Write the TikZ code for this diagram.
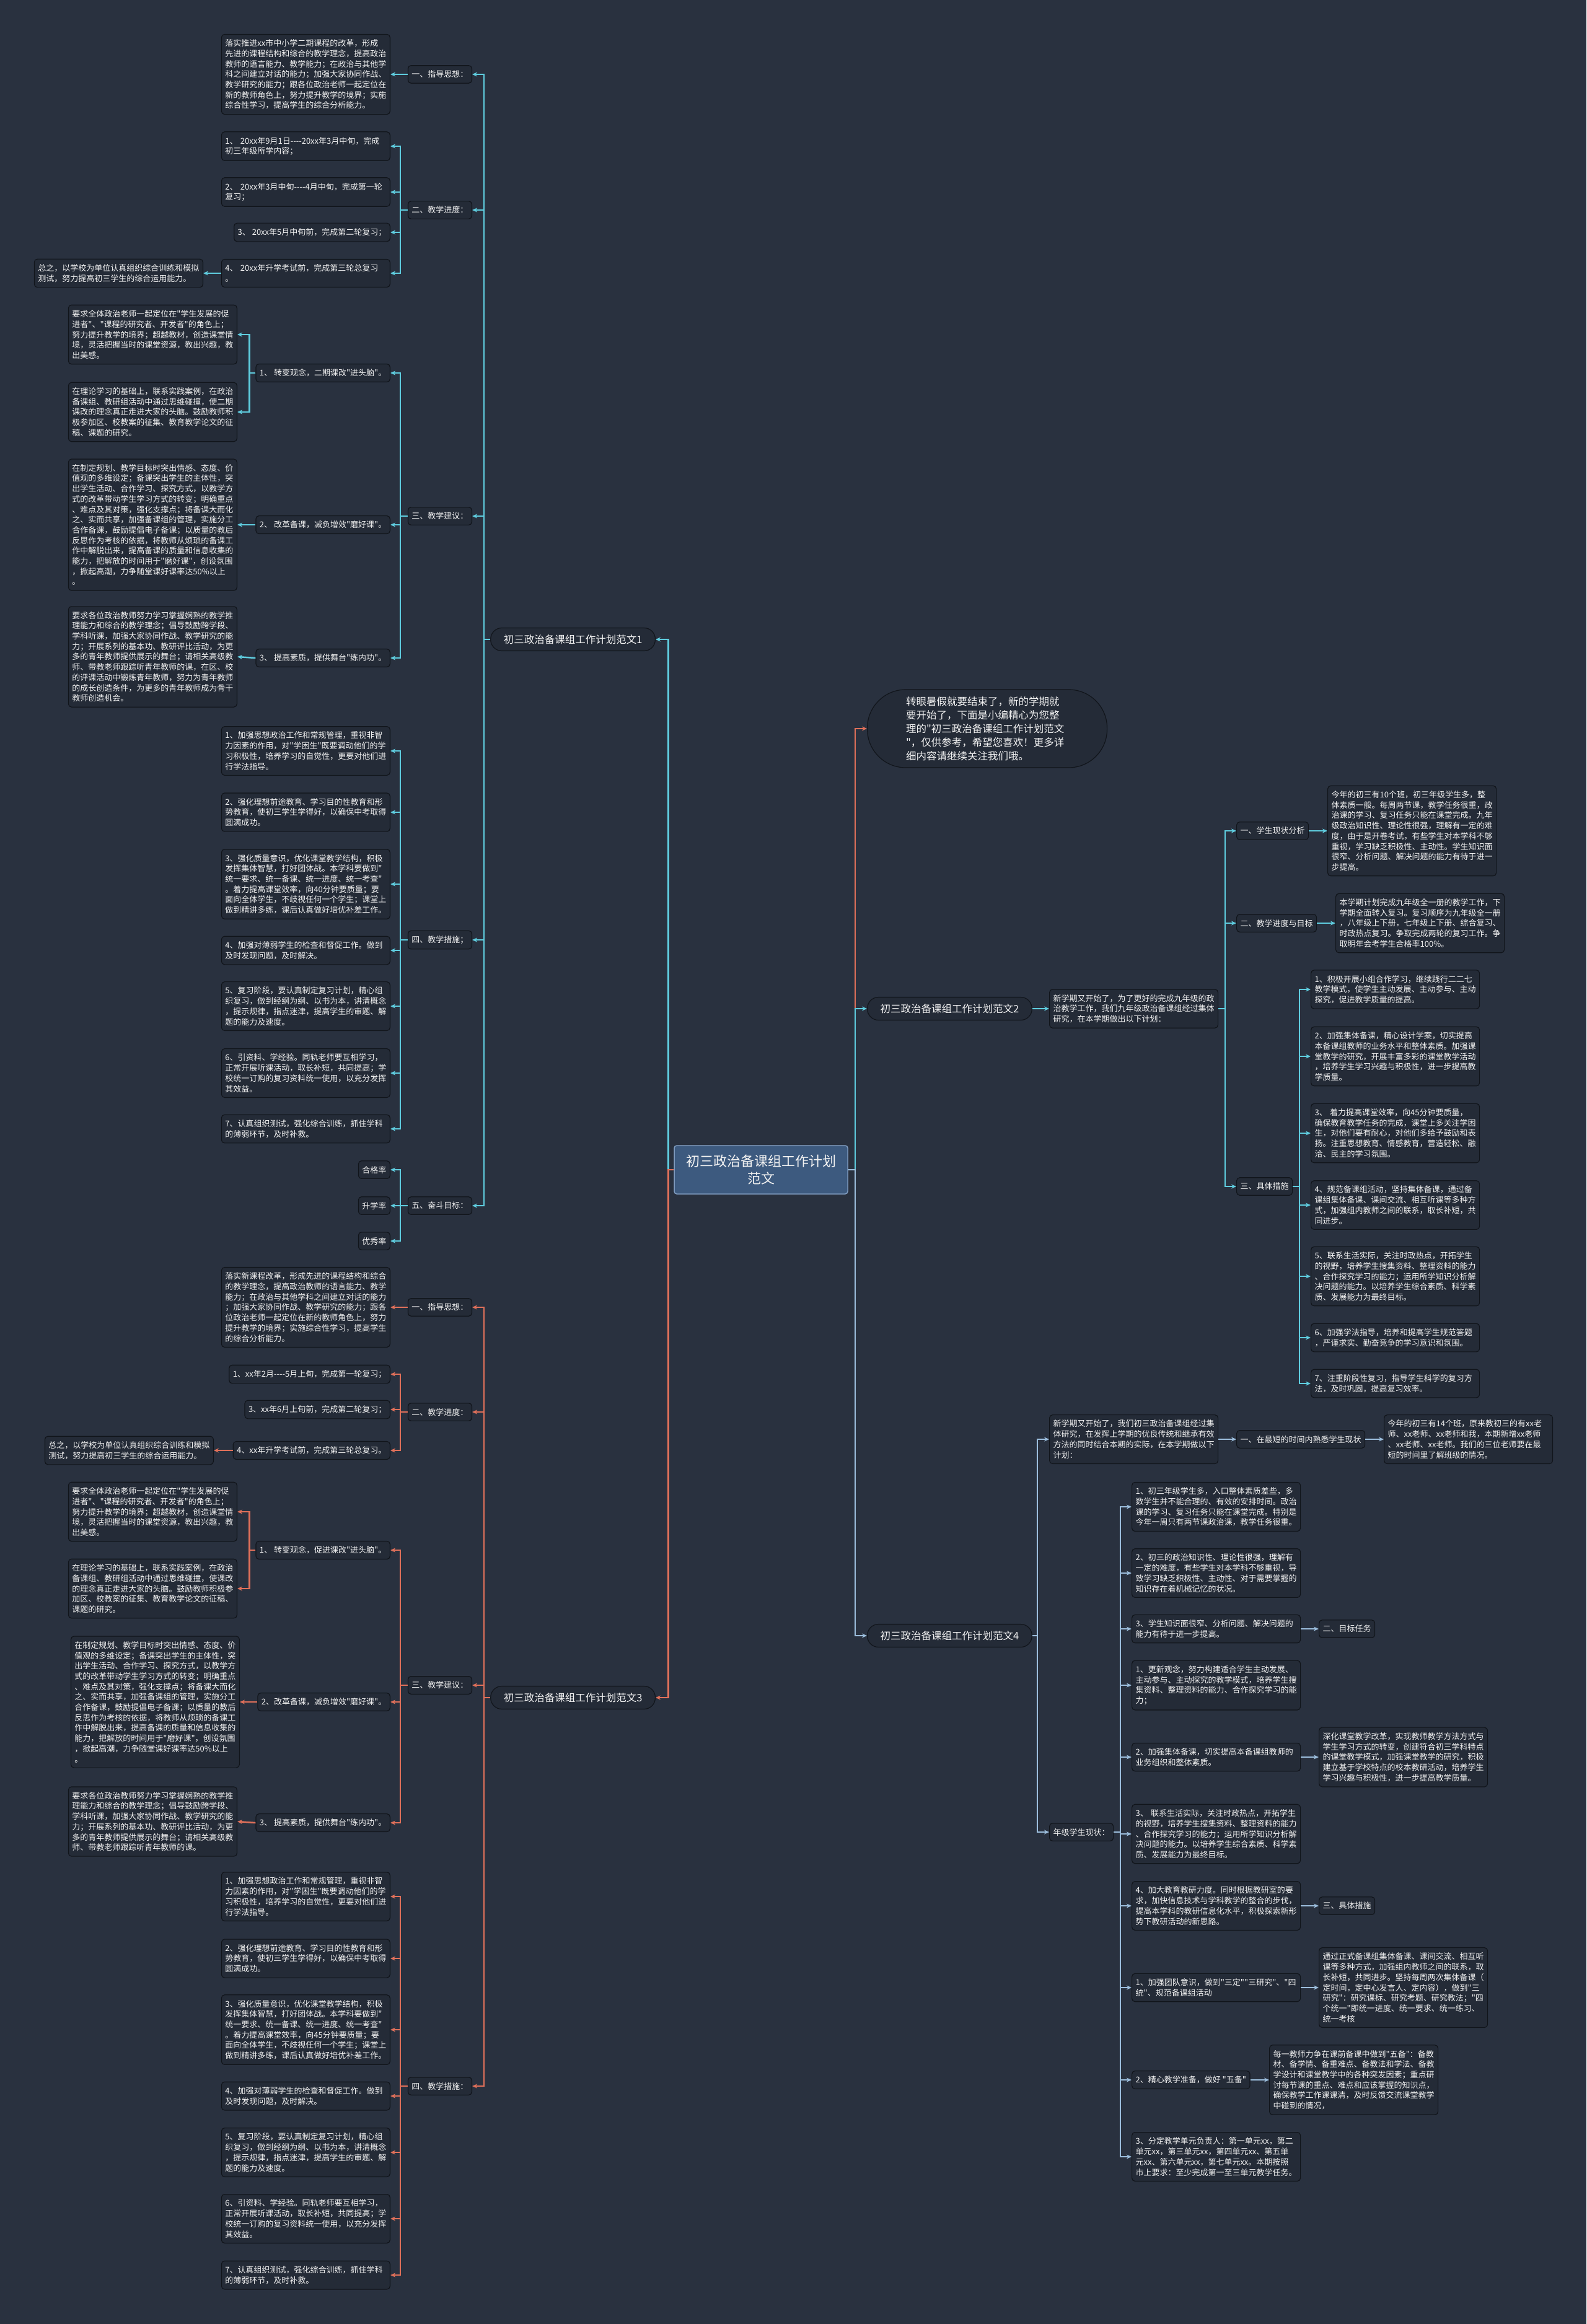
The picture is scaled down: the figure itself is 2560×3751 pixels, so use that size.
\documentclass[tikz,border=0pt]{standalone}
\usepackage{fontspec}
\newfontfamily\zh{Noto Sans CJK SC}
\usetikzlibrary{arrows.meta}
\definecolor{bgc}{HTML}{29313F}
\definecolor{nfill}{HTML}{242B37}
\definecolor{nline}{HTML}{11151B}
\definecolor{ccy}{HTML}{5FCDDF}
\definecolor{cor}{HTML}{E0705A}
\definecolor{cbl}{HTML}{9CBEDD}
\definecolor{rootfill}{HTML}{3D5A7F}
\definecolor{rootline}{HTML}{7E9BBF}
\definecolor{txt}{HTML}{F2F2F2}
\tikzset{
 bx/.style={draw=nline, fill=nfill, line width=1.2pt, rounded corners=5pt, inner xsep=6pt, inner ysep=8.3pt, text=txt, align=left, font=\zh\fontsize{13pt}{16.7pt}\selectfont},
 wb/.style={bx, text width=260pt},
 tp/.style={bx, font=\zh\fontsize{16.5pt}{22pt}\selectfont, rounded corners=18pt, inner xsep=21pt, minimum height=37pt, align=center},
 lc/.style={draw=ccy, line width=2.5pt, -{Stealth[length=8pt,width=7pt]}},
 lo/.style={lc, draw=cor},
 lb/.style={lc, draw=cbl},
}
\begin{document}
\begin{tikzpicture}[x=1pt,y=-1pt]
\useasboundingbox (0,0) rectangle (2560,3751);
\fill[bgc] (0,0) rectangle (2560,3751);

% ---------- root ----------
\node[draw=rootline, fill=rootfill, line width=1.5pt, rounded corners=4pt, text=txt, align=center, font=\zh\fontsize{22pt}{28pt}\selectfont, minimum width=280pt, minimum height=78pt, inner sep=0pt] (root) at (1228,1888) {初三政治备课组工作计划\\范文};

\node[tp, anchor=east] (T1) at (1058,1032) {初三政治备课组工作计划范文1};
\node[tp, anchor=east] (T3) at (1058,2740) {初三政治备课组工作计划范文3};
\node[tp, anchor=west, align=left, text width=262pt, inner xsep=62.5pt, minimum height=126pt, rounded corners=62pt] (intro) at (1399,1176) {转眼暑假就要结束了，新的学期就\\要开始了，下面是小编精心为您整\\理的"初三政治备课组工作计划范文\\"，仅供参考，希望您喜欢！更多详\\细内容请继续关注我们哦。};
\node[tp, anchor=west] (T2) at (1399,1628) {初三政治备课组工作计划范文2};
\node[tp, anchor=west] (T4) at (1399,2640) {初三政治备课组工作计划范文4};

\draw[lo] (root.east) -- ++(11,0) |- (intro.west);
\draw[lc] (root.east) -- ++(11,0) |- (T2.west);
\draw[lb] (root.east) -- ++(11,0) |- (T4.west);
\draw[lc] (root.west) -- ++(-9,0) |- (T1.east);
\draw[lo] (root.west) -- ++(-9,0) |- (T3.east);

% ---------- 范文1 ----------
\node[bx, anchor=east] (a1) at (762,120) {一、指导思想：};
\node[bx, anchor=east] (a2) at (762,339) {二、教学进度：};
\node[bx, anchor=east] (a3) at (762,833) {三、教学建议：};
\node[bx, anchor=east] (a4) at (762,1517) {四、教学措施；};
\node[bx, anchor=east] (a5) at (762,1946) {五、奋斗目标：};
\foreach \n in {a1,a2,a3,a4,a5} \draw[lc] (T1.west) -- ++(-10,0) |- (\n.east);

\node[wb, anchor=east] (a1c) at (630,120) {落实推进xx市中小学二期课程的改革，形成\\先进的课程结构和综合的教学理念，提高政治\\教师的语言能力、教学能力；在政治与其他学\\科之间建立对话的能力；加强大家协同作战、\\教学研究的能力；跟各位政治老师一起定位在\\新的教师角色上，努力提升教学的境界；实施\\综合性学习，提高学生的综合分析能力。};
\draw[lc] (a1.west) -- (a1c.east);

\node[wb, anchor=east] (b1) at (630,236) {1、 20xx年9月1日----20xx年3月中旬，完成\\初三年级所学内容；};
\node[wb, anchor=east] (b2) at (630,310) {2、 20xx年3月中旬----4月中旬，完成第一轮\\复习；};
\node[bx, anchor=east] (b3) at (630,375) {3、 20xx年5月中旬前，完成第二轮复习；};
\node[wb, anchor=east] (b4) at (630,441) {4、 20xx年升学考试前，完成第三轮总复习\\。};
\foreach \n in {b1,b2,b3,b4} \draw[lc] (a2.west) -- ++(-12,0) |- (\n.east);
\node[bx, anchor=east] (b4c) at (328,441) {总之，以学校为单位认真组织综合训练和模拟\\测试，努力提高初三学生的综合运用能力。};
\draw[lc] (b4.west) -- (b4c.east);

\node[bx, anchor=east] (d1) at (630,602) {1、 转变观念，二期课改"进头脑"。};
\node[bx, anchor=east] (d2) at (630,847) {2、 改革备课，减负增效"磨好课"。};
\node[bx, anchor=east] (d3) at (630,1062) {3、 提高素质，提供舞台"练内功"。};
\foreach \n in {d1,d2,d3} \draw[lc] (a3.west) -- ++(-12,0) |- (\n.east);
\node[wb, anchor=east] (e1) at (383,540) {要求全体政治老师一起定位在"学生发展的促\\进者"、"课程的研究者、开发者"的角色上；\\努力提升教学的境界；超越教材，创造课堂情\\境，灵活把握当时的课堂资源，教出兴趣，教\\出美感。};
\node[wb, anchor=east] (e2) at (383,665) {在理论学习的基础上，联系实践案例，在政治\\备课组、教研组活动中通过思维碰撞，使二期\\课改的理念真正走进大家的头脑。鼓励教师积\\极参加区、校教案的征集、教育教学论文的征\\稿、课题的研究。};
\foreach \n in {e1,e2} \draw[lc] (d1.west) -- ++(-10,0) |- (\n.east);
\node[wb, anchor=east] (e3) at (383,847) {在制定规划、教学目标时突出情感、态度、价\\值观的多维设定；备课突出学生的主体性，突\\出学生活动、合作学习、探究方式，以教学方\\式的改革带动学生学习方式的转变；明确重点\\、难点及其对策，强化支撑点；将备课大而化\\之、实而共享，加强备课组的管理，实施分工\\合作备课，鼓励提倡电子备课；以质量的教后\\反思作为考核的依据，将教师从烦琐的备课工\\作中解脱出来，提高备课的质量和信息收集的\\能力，把解放的时间用于"磨好课"，创设氛围\\，掀起高潮，力争随堂课好课率达50\%以上\\。};
\draw[lc] (d2.west) -- (e3.east);
\node[wb, anchor=east] (e4) at (383,1060) {要求各位政治教师努力学习掌握娴熟的教学推\\理能力和综合的教学理念；倡导鼓励跨学段、\\学科听课，加强大家协同作战、教学研究的能\\力；开展系列的基本功、教研评比活动，为更\\多的青年教师提供展示的舞台；请相关高级教\\师、带教老师跟踪听青年教师的课，在区、校\\的评课活动中锻炼青年教师，努力为青年教师\\的成长创造条件，为更多的青年教师成为骨干\\教师创造机会。};
\draw[lc] (d3.west) -- (e4.east);

\node[wb, anchor=east] (f1) at (630,1212) {1、加强思想政治工作和常规管理，重视非智\\力因素的作用，对"学困生"既要调动他们的学\\习积极性，培养学习的自觉性，更要对他们进\\行学法指导。};
\node[wb, anchor=east] (f2) at (630,1311) {2、强化理想前途教育、学习目的性教育和形\\势教育，使初三学生学得好，以确保中考取得\\圆满成功。};
\node[wb, anchor=east] (f3) at (630,1427) {3、强化质量意识，优化课堂教学结构，积极\\发挥集体智慧，打好团体战。本学科要做到"\\统一要求、统一备课、统一进度、统一考查"\\。着力提高课堂效率，向40分钟要质量；要\\面向全体学生，不歧视任何一个学生；课堂上\\做到精讲多练，课后认真做好培优补差工作。};
\node[wb, anchor=east] (f4) at (630,1534) {4、加强对薄弱学生的检查和督促工作。做到\\及时发现问题，及时解决。};
\node[wb, anchor=east] (f5) at (630,1624) {5、复习阶段，要认真制定复习计划，精心组\\织复习，做到经纲为纲、以书为本，讲清概念\\，提示规律，指点迷津，提高学生的审题、解\\题的能力及速度。};
\node[wb, anchor=east] (f6) at (630,1732) {6、引资料、学经验。同轨老师要互相学习，\\正常开展听课活动，取长补短，共同提高；学\\校统一订购的复习资料统一使用，以充分发挥\\其效益。};
\node[wb, anchor=east] (f7) at (630,1822) {7、认真组织测试，强化综合训练，抓住学科\\的薄弱环节，及时补救。};
\foreach \n in {f1,f2,f3,f4,f5,f6,f7} \draw[lc] (a4.west) -- ++(-12,0) |- (\n.east);

\node[bx, anchor=east] (g1) at (630,1888) {合格率};
\node[bx, anchor=east] (g2) at (630,1946) {升学率};
\node[bx, anchor=east] (g3) at (630,2003) {优秀率};
\foreach \n in {g1,g2,g3} \draw[lc] (a5.west) -- ++(-12,0) |- (\n.east);

% ---------- 范文3 ----------
\node[bx, anchor=east] (h1) at (762,2110) {一、指导思想：};
\node[bx, anchor=east] (h2) at (762,2279) {二、教学进度：};
\node[bx, anchor=east] (h3) at (762,2720) {三、教学建议：};
\node[bx, anchor=east] (h4) at (762,3367) {四、教学措施：};
\foreach \n in {h1,h2,h3,h4} \draw[lo] (T3.west) -- ++(-10,0) |- (\n.east);

\node[wb, anchor=east] (h1c) at (630,2110) {落实新课程改革，形成先进的课程结构和综合\\的教学理念，提高政治教师的语言能力、教学\\能力；在政治与其他学科之间建立对话的能力\\；加强大家协同作战、教学研究的能力；跟各\\位政治老师一起定位在新的教师角色上，努力\\提升教学的境界；实施综合性学习，提高学生\\的综合分析能力。};
\draw[lo] (h1.west) -- (h1c.east);

\node[bx, anchor=east] (i1) at (630,2218) {1、xx年2月----5月上旬，完成第一轮复习；};
\node[bx, anchor=east] (i3) at (630,2275) {3、xx年6月上旬前，完成第二轮复习；};
\node[bx, anchor=east] (i4) at (630,2341) {4、xx年升学考试前，完成第三轮总复习。};
\foreach \n in {i1,i3,i4} \draw[lo] (h2.west) -- ++(-12,0) |- (\n.east);
\node[bx, anchor=east] (i4c) at (345,2341) {总之，以学校为单位认真组织综合训练和模拟\\测试，努力提高初三学生的综合运用能力。};
\draw[lo] (i4.west) -- (i4c.east);

\node[bx, anchor=east] (j1) at (630,2502) {1、 转变观念，促进课改"进头脑"。};
\node[bx, anchor=east] (j2) at (630,2747) {2、改革备课，减负增效"磨好课"。};
\node[bx, anchor=east] (j3) at (630,2942) {3、 提高素质，提供舞台"练内功"。};
\foreach \n in {j1,j2,j3} \draw[lo] (h3.west) -- ++(-12,0) |- (\n.east);
\node[wb, anchor=east] (k1) at (383,2440) {要求全体政治老师一起定位在"学生发展的促\\进者"、"课程的研究者、开发者"的角色上；\\努力提升教学的境界；超越教材，创造课堂情\\境，灵活把握当时的课堂资源，教出兴趣，教\\出美感。};
\node[wb, anchor=east] (k2) at (383,2564) {在理论学习的基础上，联系实践案例，在政治\\备课组、教研组活动中通过思维碰撞，使课改\\的理念真正走进大家的头脑。鼓励教师积极参\\加区、校教案的征集、教育教学论文的征稿、\\课题的研究。};
\foreach \n in {k1,k2} \draw[lo] (j1.west) -- ++(-10,0) |- (\n.east);
\node[wb, anchor=east] (k3) at (387,2747) {在制定规划、教学目标时突出情感、态度、价\\值观的多维设定；备课突出学生的主体性，突\\出学生活动、合作学习、探究方式，以教学方\\式的改革带动学生学习方式的转变；明确重点\\、难点及其对策，强化支撑点；将备课大而化\\之、实而共享，加强备课组的管理，实施分工\\合作备课，鼓励提倡电子备课；以质量的教后\\反思作为考核的依据，将教师从烦琐的备课工\\作中解脱出来，提高备课的质量和信息收集的\\能力，把解放的时间用于"磨好课"，创设氛围\\，掀起高潮，力争随堂课好课率达50\%以上\\。};
\draw[lo] (j2.west) -- (k3.east);
\node[wb, anchor=east] (k4) at (383,2940) {要求各位政治教师努力学习掌握娴熟的教学推\\理能力和综合的教学理念；倡导鼓励跨学段、\\学科听课，加强大家协同作战、教学研究的能\\力；开展系列的基本功、教研评比活动，为更\\多的青年教师提供展示的舞台；请相关高级教\\师、带教老师跟踪听青年教师的课。};
\draw[lo] (j3.west) -- (k4.east);

\node[wb, anchor=east] (l1) at (630,3061) {1、加强思想政治工作和常规管理，重视非智\\力因素的作用，对"学困生"既要调动他们的学\\习积极性，培养学习的自觉性，更要对他们进\\行学法指导。};
\node[wb, anchor=east] (l2) at (630,3161) {2、强化理想前途教育、学习目的性教育和形\\势教育，使初三学生学得好，以确保中考取得\\圆满成功。};
\node[wb, anchor=east] (l3) at (630,3276) {3、强化质量意识，优化课堂教学结构，积极\\发挥集体智慧，打好团体战。本学科要做到"\\统一要求、统一备课、统一进度、统一考查"\\。着力提高课堂效率，向45分钟要质量；要\\面向全体学生，不歧视任何一个学生；课堂上\\做到精讲多练，课后认真做好培优补差工作。};
\node[wb, anchor=east] (l4) at (630,3383) {4、加强对薄弱学生的检查和督促工作。做到\\及时发现问题，及时解决。};
\node[wb, anchor=east] (l5) at (630,3474) {5、复习阶段，要认真制定复习计划，精心组\\织复习，做到经纲为纲、以书为本，讲清概念\\，提示规律，指点迷津，提高学生的审题、解\\题的能力及速度。};
\node[wb, anchor=east] (l6) at (630,3581) {6、引资料、学经验。同轨老师要互相学习，\\正常开展听课活动，取长补短，共同提高；学\\校统一订购的复习资料统一使用，以充分发挥\\其效益。};
\node[wb, anchor=east] (l7) at (630,3672) {7、认真组织测试，强化综合训练，抓住学科\\的薄弱环节，及时补救。};
\foreach \n in {l1,l2,l3,l4,l5,l6,l7} \draw[lo] (h4.west) -- ++(-12,0) |- (\n.east);

% ---------- 范文2 ----------
\node[wb, anchor=west] (m0) at (1693,1628) {新学期又开始了，为了更好的完成九年级的政\\治教学工作，我们九年级政治备课组经过集体\\研究，在本学期做出以下计划：};
\draw[lc] (T2.east) -- (m0.west);
\node[bx, anchor=west] (n1) at (1995,1341) {一、学生现状分析};
\node[bx, anchor=west] (n2) at (1995,1490) {二、教学进度与目标};
\node[bx, anchor=west] (n3) at (1995,1915) {三、具体措施};
\foreach \n in {n1,n2,n3} \draw[lc] (m0.east) -- ++(11,0) |- (\n.west);
\node[wb, anchor=west] (o1) at (2142,1341) {今年的初三有10个班，初三年级学生多，整\\体素质一般。每周两节课，教学任务很重，政\\治课的学习、复习任务只能在课堂完成。九年\\级政治知识性、理论性很强，理解有一定的难\\度，由于是开卷考试，有些学生对本学科不够\\重视，学习缺乏积极性、主动性。学生知识面\\很窄、分析问题、解决问题的能力有待于进一\\步提高。};
\draw[lc] (n1.east) -- (o1.west);
\node[wb, anchor=west] (o2) at (2155,1490) {本学期计划完成九年级全一册的教学工作，下\\学期全面转入复习。复习顺序为九年级全一册\\，八年级上下册，七年级上下册、综合复习、\\时政热点复习。争取完成两轮的复习工作。争\\取明年会考学生合格率100\%。};
\draw[lc] (n2.east) -- (o2.west);
\node[wb, anchor=west] (p1) at (2115,1597) {1、积极开展小组合作学习，继续践行二二七\\教学模式，使学生主动发展、主动参与、主动\\探究，促进教学质量的提高。};
\node[wb, anchor=west] (p2) at (2115,1705) {2、加强集体备课，精心设计学案，切实提高\\本备课组教师的业务水平和整体素质。加强课\\堂教学的研究，开展丰富多彩的课堂教学活动\\，培养学生学习兴趣与积极性，进一步提高教\\学质量。};
\node[wb, anchor=west] (p3) at (2115,1829) {3、 着力提高课堂效率，向45分钟要质量，\\确保教育教学任务的完成，课堂上多关注学困\\生，对他们要有耐心，对他们多给予鼓励和表\\扬。注重思想教育、情感教育，营造轻松、融\\洽、民主的学习氛围。};
\node[wb, anchor=west] (p4) at (2115,1945) {4、规范备课组活动，坚持集体备课，通过备\\课组集体备课、课间交流、相互听课等多种方\\式，加强组内教师之间的联系，取长补短，共\\同进步。};
\node[wb, anchor=west] (p5) at (2115,2060) {5、联系生活实际，关注时政热点，开拓学生\\的视野，培养学生搜集资料、整理资料的能力\\、合作探究学习的能力；运用所学知识分析解\\决问题的能力。以培养学生综合素质、科学素\\质、发展能力为最终目标。};
\node[wb, anchor=west] (p6) at (2115,2159) {6、加强学法指导，培养和提高学生规范答题\\，严谨求实、勤奋竞争的学习意识和氛围。};
\node[wb, anchor=west] (p7) at (2115,2233) {7、注重阶段性复习，指导学生科学的复习方\\法，及时巩固，提高复习效率。};
\foreach \n in {p1,p2,p3,p4,p5,p6,p7} \draw[lc] (n3.east) -- ++(11,0) |- (\n.west);

% ---------- 范文4 ----------
\node[wb, anchor=west] (q1) at (1693,2323) {新学期又开始了，我们初三政治备课组经过集\\体研究，在发挥上学期的优良传统和继承有效\\方法的同时结合本期的实际，在本学期做以下\\计划：};
\node[bx, anchor=west] (q2) at (1693,2957) {年级学生现状：};
\foreach \n in {q1,q2} \draw[lb] (T4.east) -- ++(8,0) |- (\n.west);
\node[bx, anchor=west] (r1) at (1995,2323) {一、在最短的时间内熟悉学生现状};
\draw[lb] (q1.east) -- (r1.west);
\node[wb, anchor=west] (s1) at (2233,2323) {今年的初三有14个班，原来教初三的有xx老\\师、xx老师、xx老师和我，本期新增xx老师\\、xx老师、xx老师。我们的三位老师要在最\\短的时间里了解班级的情况。};
\draw[lb] (r1.east) -- (s1.west);

\node[wb, anchor=west] (t1) at (1826,2432) {1、初三年级学生多，入口整体素质差些，多\\数学生并不能合理的、有效的安排时间。政治\\课的学习、复习任务只能在课堂完成。特别是\\今年一周只有两节课政治课，教学任务很重。};
\node[wb, anchor=west] (t2) at (1826,2539) {2、初三的政治知识性、理论性很强，理解有\\一定的难度，有些学生对本学科不够重视，导\\致学习缺乏积极性、主动性、对于需要掌握的\\知识存在着机械记忆的状况。};
\node[wb, anchor=west] (t3) at (1826,2629) {3、学生知识面很窄、分析问题、解决问题的\\能力有待于进一步提高。};
\node[wb, anchor=west] (t4) at (1826,2720) {1、更新观念，努力构建适合学生主动发展、\\主动参与、主动探究的教学模式，培养学生搜\\集资料、整理资料的能力、合作探究学习的能\\力；};
\node[wb, anchor=west] (t5) at (1826,2836) {2、加强集体备课，切实提高本备课组教师的\\业务组织和整体素质。};
\node[wb, anchor=west] (t6) at (1826,2960) {3、 联系生活实际，关注时政热点，开拓学生\\的视野，培养学生搜集资料、整理资料的能力\\、合作探究学习的能力；运用所学知识分析解\\决问题的能力。以培养学生综合素质、科学素\\质、发展能力为最终目标。};
\node[wb, anchor=west] (t7) at (1826,3076) {4、加大教育教研力度。同时根据教研室的要\\求，加快信息技术与学科教学的整合的步伐，\\提高本学科的教研信息化水平，积极探索新形\\势下教研活动的新思路。};
\node[wb, anchor=west] (t8) at (1826,3208) {1、加强团队意识，做到"三定""三研究"、"四\\统"、规范备课组活动};
\node[bx, anchor=west] (t9) at (1826,3357) {2、精心教学准备，做好 "五备"};
\node[wb, anchor=west] (t10) at (1826,3481) {3、分定教学单元负责人：第一单元xx，第二\\单元xx，第三单元xx，第四单元xx、第五单\\元xx、第六单元xx，第七单元xx。本期按照\\市上要求：至少完成第一至三单元教学任务。};
\foreach \n in {t1,t2,t3,t4,t5,t6,t7,t8,t9,t10} \draw[lb] (q2.east) -- ++(11,0) |- (\n.west);

\node[bx, anchor=west] (u1) at (2128,2629) {二、目标任务};
\draw[lb] (t3.east) -- (u1.west);
\node[wb, anchor=west] (u2) at (2128,2836) {深化课堂教学改革，实现教师教学方法方式与\\学生学习方式的转变，创建符合初三学科特点\\的课堂教学模式，加强课堂教学的研究，积极\\建立基于学校特点的校本教研活动，培养学生\\学习兴趣与积极性，进一步提高教学质量。};
\draw[lb] (t5.east) -- (u2.west);
\node[bx, anchor=west] (u3) at (2128,3076) {三、具体措施};
\draw[lb] (t7.east) -- (u3.west);
\node[wb, anchor=west] (u4) at (2128,3208) {通过正式备课组集体备课、课间交流、相互听\\课等多种方式，加强组内教师之间的联系，取\\长补短，共同进步。坚持每周两次集体备课（\\定时间，定中心发言人、定内容），做到"三\\研究"：研究课标、研究考题、研究教法；"四\\个统一"即统一进度、统一要求、统一练习、\\统一考核};
\draw[lb] (t8.east) -- (u4.west);
\node[wb, anchor=west] (u5) at (2048,3357) {每一教师力争在课前备课中做到"五备"：备教\\材、备学情、备重难点、备教法和学法、备教\\学设计和课堂教学中的各种突发因素；重点研\\讨每节课的重点、难点和应该掌握的知识点，\\确保教学工作课课清，及时反馈交流课堂教学\\中碰到的情况，};
\draw[lb] (t9.east) -- (u5.west);
\end{tikzpicture}
\end{document}
